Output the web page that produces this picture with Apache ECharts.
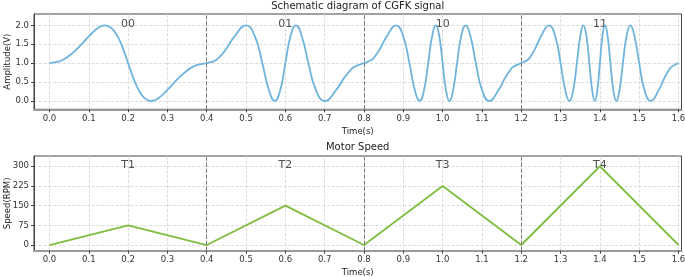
<!DOCTYPE html>
<html><head><meta charset="utf-8">
<script src="https://cdn.jsdelivr.net/npm/echarts@6/dist/echarts.min.js"></script>
<style>html,body{margin:0;padding:0;background:#fff}#c{width:685px;height:277px}</style>
</head><body><div id="c"></div>
<script>
// ---- data ----
const signalTime = [
  0, 0.025, 0.0354, 0.05, 0.0707, 0.0866, 0.1, 0.1225, 0.1414, 0.1581, 0.1732, 0.1871, 0.2, 0.2129, 0.2268, 0.2419, 0.2586,
  0.2775, 0.3, 0.3293, 0.35, 0.3646, 0.375, 0.4,
  0.4177, 0.425, 0.4354, 0.45, 0.4707, 0.5, 0.5225, 0.5414, 0.5581, 0.5732, 0.5871, 0.6,
  0.6129, 0.6268, 0.6419, 0.6586, 0.6775, 0.7, 0.7293, 0.75, 0.7646, 0.775, 0.8,
  0.8204, 0.8289, 0.8408, 0.8577, 0.8816, 0.9, 0.9155, 0.9291, 0.9414, 0.9528, 0.9633, 0.9732, 0.9826, 0.9915, 1.0,
  1.0085, 1.0174, 1.0268, 1.0367, 1.0472, 1.0586, 1.0709, 1.0845, 1.1, 1.1184, 1.1423, 1.1592, 1.1711, 1.1796, 1.2,
  1.2177, 1.225, 1.2354, 1.25, 1.2707, 1.2866, 1.3, 1.3118, 1.3225, 1.3323, 1.3414, 1.35, 1.3581, 1.3658, 1.3732,
  1.3803, 1.3871, 1.3936, 1.4, 1.4064, 1.4129, 1.4197, 1.4268, 1.4342, 1.4419, 1.45, 1.4586, 1.4677, 1.4775,
  1.4882, 1.5, 1.5134, 1.5293, 1.55, 1.5646, 1.575, 1.5823, 1.6
];
const signalAmp = [
  1, 1.049, 1.098, 1.195, 1.383, 1.556, 1.707, 1.924, 2, 1.924, 1.707, 1.383, 1, 0.617, 0.293, 0.076, 0,
  0.076, 0.293, 0.617, 0.805, 0.902, 0.951, 1,
  1.049, 1.098, 1.195, 1.383, 1.707, 2, 1.707, 1, 0.293, 0, 0.293, 1,
  1.707, 2, 1.707, 1, 0.293, 0, 0.293, 0.617, 0.805, 0.902, 1,
  1.098, 1.195, 1.383, 1.707, 2, 1.707, 1, 0.293, 0, 0.293, 1, 1.707, 2, 1.707, 1,
  0.293, 0, 0.293, 1, 1.707, 2, 1.707, 1, 0.293, 0, 0.293, 0.617, 0.805, 0.902, 1,
  1.098, 1.195, 1.383, 1.707, 2, 1.707, 1, 0.293, 0, 0.293, 1, 1.707, 2, 1.707, 1,
  0.293, 0, 0.293, 1, 1.707, 2, 1.707, 1, 0.293, 0, 0.293, 1, 1.707, 2,
  1.707, 1, 0.293, 0, 0.293, 0.617, 0.805, 0.902, 1
];
const speedTime = [0, 0.2, 0.4, 0.6, 0.8, 1.0, 1.2, 1.4, 1.6];
const speedRPM  = [0, 75, 0, 150, 0, 225, 0, 300, 0];
const xTicks   = [0, 0.1, 0.2, 0.3, 0.4, 0.5, 0.6, 0.7, 0.8, 0.9, 1.0, 1.1, 1.2, 1.3, 1.4, 1.5, 1.6];
const ampTicks = [0, 0.5, 1.0, 1.5, 2.0];
const rpmTicks = [0, 75, 150, 225, 300];
const boundaries = [0.4, 0.8, 1.2];
const labelTimes = [0.2, 0.6, 1.0, 1.4];
const signalLabels = ['00', '01', '10', '11'];
const speedLabels = ['T1', 'T2', 'T3', 'T4'];
const titles = ['Schematic diagram of CGFK signal', 'Motor Speed'];

// ---- chart ----
const FONT = 'DejaVu Sans';
const chart = echarts.init(document.getElementById('c'), null, {renderer: 'canvas'});

function xAxisFor(i) {
  return {
    type: 'value', gridIndex: i, min: -0.0394, max: 1.6076,
    name: 'Time(s)', nameLocation: 'middle', nameGap: 17.5, nameMoveOverlap: false,
    nameTextStyle: {fontSize: 8.5, color: '#222', fontFamily: FONT},
    axisLine: {show: true, onZero: false, lineStyle: {color: '#999', width: 2}},
    axisTick: {show: true, customValues: xTicks, length: 3, lineStyle: {color: '#444'}},
    axisLabel: {customValues: xTicks, formatter: v => v.toFixed(1), fontSize: 8.5, color: '#333', margin: 5, fontFamily: FONT},
    splitLine: {show: true, lineStyle: {type: 'dashed', color: '#d4d4d4', width: 0.8}}
  };
}
function yAxisFor(i, min, max, ticks, fmt, name) {
  return {
    type: 'value', gridIndex: i, min: min, max: max,
    name: name, nameLocation: 'middle', nameGap: 21.5, nameRotate: 90, nameMoveOverlap: false,
    nameTextStyle: {fontSize: 8.5, color: '#222', fontFamily: FONT},
    axisLine: {show: true, onZero: false, lineStyle: {color: '#444', width: 1}},
    axisTick: {show: true, customValues: ticks, length: 3, lineStyle: {color: '#444'}},
    axisLabel: {customValues: ticks, formatter: fmt, fontSize: 8.5, color: '#333', margin: 5, fontFamily: FONT},
    splitLine: {show: true, lineStyle: {type: 'dashed', color: '#d4d4d4', width: 0.8}}
  };
}
const divider = {
  symbol: 'none', silent: true, label: {show: false},
  lineStyle: {type: 'dashed', color: '#777', width: 1},
  data: boundaries.map(b => ({xAxis: b}))
};

const option = {
  animation: false,
  backgroundColor: '#fff',
  textStyle: {fontFamily: FONT},
  grid: [
    {left: 34, right: 3.5, top: 14, height: 95.3, show: true, borderColor: '#444', borderWidth: 1, containLabel: false, outerBoundsMode: 'none'},
    {left: 34, right: 3.5, top: 156, height: 94.7, show: true, borderColor: '#444', borderWidth: 1, containLabel: false, outerBoundsMode: 'none'}
  ],
  xAxis: [xAxisFor(0), xAxisFor(1)],
  yAxis: [
    yAxisFor(0, -0.22, 2.3, ampTicks, v => v.toFixed(1), 'Amplitude(V)'),
    yAxisFor(1, -21.7, 339, rpmTicks, v => String(v), 'Speed(RPM)')
  ],
  graphic: [
    {type: 'text', x: 357.7, y: 6, style: {text: titles[0], font: '10px "DejaVu Sans"', fill: '#222', align: 'center', verticalAlign: 'middle'}},
    {type: 'text', x: 357.7, y: 147, style: {text: titles[1], font: '10px "DejaVu Sans"', fill: '#222', align: 'center', verticalAlign: 'middle'}}
  ],
  series: [
    {
      type: 'line', xAxisIndex: 0, yAxisIndex: 0, showSymbol: false, smooth: 0.5,
      lineStyle: {color: '#6fb4dc', width: 1.8},
      data: signalTime.map((t, i) => [t, signalAmp[i]]),
      markLine: divider
    },
    {
      type: 'line', xAxisIndex: 1, yAxisIndex: 1, showSymbol: false,
      lineStyle: {color: '#7fbc41', width: 1.8},
      data: speedTime.map((t, i) => [t, speedRPM[i]]),
      markLine: divider
    },
    {
      type: 'scatter', xAxisIndex: 0, yAxisIndex: 0, symbolSize: 0, silent: true,
      label: {show: true, position: 'inside', formatter: p => p.name, fontSize: 11, color: '#222', fontFamily: FONT},
      data: labelTimes.map((t, i) => ({name: signalLabels[i], value: [t, 2.03]}))
    },
    {
      type: 'scatter', xAxisIndex: 1, yAxisIndex: 1, symbolSize: 0, silent: true,
      label: {show: true, position: 'inside', formatter: p => p.name, fontSize: 11, color: '#222', fontFamily: FONT},
      data: labelTimes.map((t, i) => ({name: speedLabels[i], value: [t, 305]}))
    }
  ]
};
chart.setOption(option);
</script>
</body></html>
